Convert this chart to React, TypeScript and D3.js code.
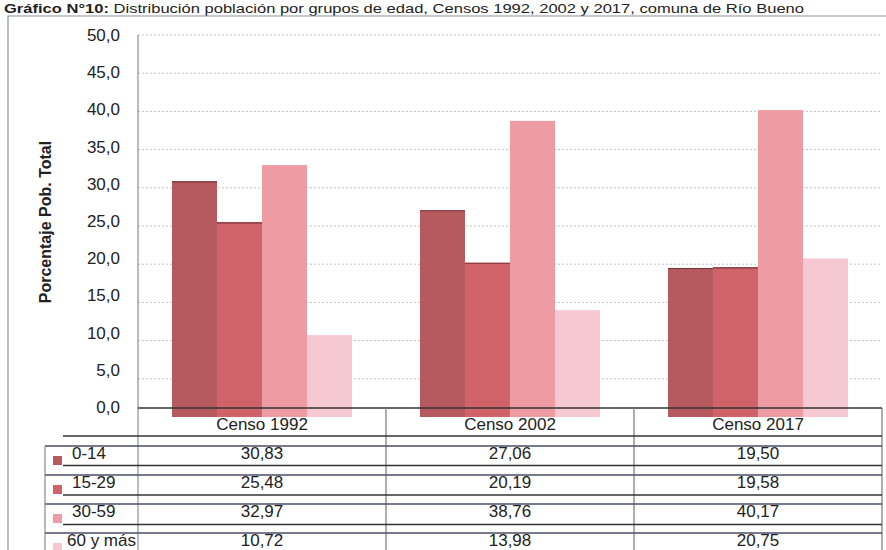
import React, { useRef, useEffect } from "react";
import * as d3 from "d3";

const censos = ["Censo 1992", "Censo 2002", "Censo 2017"];
const grupos = ["0-14", "15-29", "30-59", "60 y más"];
const v0_14 = [30.83, 27.06, 19.5];
const v15_29 = [25.48, 20.19, 19.58];
const v30_59 = [32.97, 38.76, 40.17];
const v60mas = [10.72, 13.98, 20.75];
const yTicks = [0, 5, 10, 15, 20, 25, 30, 35, 40, 45, 50];
const colores = ["#b65a5f", "#d0636a", "#ee9ba4", "#f6c8d1"];

const W = 886;
const H = 550;
const FONT = "Arial, 'Liberation Sans', sans-serif";
const fmt = (v: number, d: number) => v.toFixed(d).replace(".", ",");

const App = () => {
  const node: any = useRef();

  useEffect(() => {
    const series = [v0_14, v15_29, v30_59, v60mas];
    const svg = d3.select(node.current);
    svg.selectAll("*").remove();

    const plot = { left: 138, right: 882, top: 35, bottom: 417 };
    const tableTop = 408;

    // scales
    const x0 = d3.scaleBand().domain(censos).range([plot.left, plot.right]);
    const x1 = d3
      .scaleBand()
      .domain(grupos)
      .range([34, x0.bandwidth() - 34]);
    const y = d3.scaleLinear().domain([0, 50]).range([plot.bottom, plot.top]);
    // tick text sits slightly off the grid in the scanned original
    const yLab = d3.scaleLinear().domain([0, 50]).range([407, 35]);

    // title
    const title = svg
      .append("text")
      .attr("x", 4)
      .attr("y", 12.5)
      .attr("font-family", FONT)
      .attr("font-size", 13.5)
      .attr("textLength", 800)
      .attr("lengthAdjust", "spacingAndGlyphs")
      .attr("fill", "#222");
    title.append("tspan").attr("font-weight", "bold").text("Gráfico N°10:");
    title
      .append("tspan")
      .text(" Distribución población por grupos de edad, Censos 1992, 2002 y 2017, comuna de Río Bueno");

    // outer frame
    svg
      .append("path")
      .attr("d", `M8,${H} V16 H${W}`)
      .attr("fill", "none")
      .attr("stroke", "#8a8f99")
      .attr("stroke-width", 1.2);

    // gridlines
    svg
      .append("g")
      .selectAll("line")
      .data(yTicks.filter((t) => t > 0))
      .enter()
      .append("line")
      .attr("x1", plot.left)
      .attr("x2", plot.right)
      .attr("y1", (d) => y(d))
      .attr("y2", (d) => y(d))
      .attr("stroke", "#b0b0b0")
      .attr("stroke-width", 0.8)
      .attr("stroke-dasharray", "2,2");

    // y tick labels
    svg
      .append("g")
      .selectAll("text")
      .data(yTicks)
      .enter()
      .append("text")
      .attr("x", 120)
      .attr("y", (d) => yLab(d) + 6)
      .attr("text-anchor", "end")
      .attr("font-family", FONT)
      .attr("font-size", 17)
      .attr("fill", "#222")
      .text((d) => fmt(d, 1));

    // y title
    svg
      .append("text")
      .attr("transform", "translate(51,222) rotate(-90)")
      .attr("text-anchor", "middle")
      .attr("font-family", FONT)
      .attr("font-size", 16)
      .attr("font-weight", "bold")
      .attr("fill", "#222")
      .text("Porcentaje Pob. Total");

    // bars
    const groups = svg
      .append("g")
      .selectAll("g")
      .data(censos)
      .enter()
      .append("g")
      .attr("transform", (d) => `translate(${x0(d)},0)`);
    groups
      .selectAll("rect")
      .data((_, i) => series.map((s, k) => ({ g: grupos[k], v: s[i], k })))
      .enter()
      .append("rect")
      .attr("x", (d) => x1(d.g) as number)
      .attr("y", (d) => y(d.v))
      .attr("width", x1.bandwidth())
      .attr("height", (d) => y(0) - y(d.v))
      .attr("fill", (d) => colores[d.k]);
    groups
      .selectAll("line.top")
      .data((_, i) => series.map((s, k) => ({ g: grupos[k], v: s[i], k })).filter((d) => d.k < 2))
      .enter()
      .append("line")
      .attr("x1", (d) => x1(d.g) as number)
      .attr("x2", (d) => (x1(d.g) as number) + x1.bandwidth())
      .attr("y1", (d) => y(d.v) + 0.5)
      .attr("y2", (d) => y(d.v) + 0.5)
      .attr("stroke", "#7a3236")
      .attr("stroke-width", 1.2);

    // y axis line
    svg
      .append("line")
      .attr("x1", plot.left)
      .attr("x2", plot.left)
      .attr("y1", plot.top)
      .attr("y2", H)
      .attr("stroke", "#8a8f99")
      .attr("stroke-width", 1.2);

    // table: top line, verticals
    svg
      .append("line")
      .attr("x1", plot.left)
      .attr("x2", plot.right)
      .attr("y1", tableTop)
      .attr("y2", tableTop)
      .attr("stroke", "#333")
      .attr("stroke-width", 1.5);
    const bounds = censos.map((c) => (x0(c) as number) + x0.bandwidth());
    svg
      .append("g")
      .selectAll("line")
      .data(bounds)
      .enter()
      .append("line")
      .attr("x1", (d) => d)
      .attr("x2", (d) => d)
      .attr("y1", tableTop)
      .attr("y2", H)
      .attr("stroke", "#777")
      .attr("stroke-width", 1.2);

    // header labels
    svg
      .append("g")
      .selectAll("text")
      .data(censos)
      .enter()
      .append("text")
      .attr("x", (d) => (x0(d) as number) + x0.bandwidth() / 2)
      .attr("y", 430)
      .attr("text-anchor", "middle")
      .attr("font-family", FONT)
      .attr("font-size", 17)
      .attr("fill", "#222")
      .text((d) => d);

    // row lines (doubled in the scan)
    const linesA = grupos.map((_, i) => 436 + i * 29.5);
    const linesB = grupos.map((_, i) => 446 + i * 29);
    svg
      .append("g")
      .selectAll("line")
      .data(linesA)
      .enter()
      .append("line")
      .attr("x1", 63)
      .attr("x2", plot.right)
      .attr("y1", (d) => d)
      .attr("y2", (d) => d)
      .attr("stroke", "#333")
      .attr("stroke-width", 1.5);
    svg
      .append("g")
      .selectAll("line")
      .data(linesB)
      .enter()
      .append("line")
      .attr("x1", 45)
      .attr("x2", plot.right)
      .attr("y1", (d) => d)
      .attr("y2", (d) => d)
      .attr("stroke", "#4a4d66")
      .attr("stroke-width", 1.3);
    svg
      .append("line")
      .attr("x1", 45)
      .attr("x2", 45)
      .attr("y1", 446)
      .attr("y2", H)
      .attr("stroke", "#888")
      .attr("stroke-width", 1.2);

    // rows: legend key, label, values
    const rows = svg
      .append("g")
      .selectAll("g")
      .data(grupos)
      .enter()
      .append("g")
      .attr("transform", (_, i) => `translate(0,${453 + i * 29})`);
    rows
      .append("rect")
      .attr("x", 53)
      .attr("y", 3)
      .attr("width", 9)
      .attr("height", 9)
      .attr("fill", (_, i) => colores[i]);
    rows
      .append("text")
      .attr("x", (_, i) => (i === 3 ? 67 : 72))
      .attr("y", 6)
      .attr("font-family", FONT)
      .attr("font-size", 17)
      .attr("fill", "#222")
      .text((d) => d);
    rows
      .selectAll("text.v")
      .data((_, i) => series[i].map((v, j) => ({ v, c: censos[j] })))
      .enter()
      .append("text")
      .attr("x", (d) => (x0(d.c) as number) + x0.bandwidth() / 2)
      .attr("y", 6)
      .attr("text-anchor", "middle")
      .attr("font-family", FONT)
      .attr("font-size", 17)
      .attr("fill", "#222")
      .text((d) => fmt(d.v, 2));
  }, []);

  return (
    <div style={{ position: "absolute", left: 0, top: 0, background: "#fff" }}>
      <svg ref={node} width={W} height={H} style={{ display: "block" }}></svg>
    </div>
  );
};

export default App;
